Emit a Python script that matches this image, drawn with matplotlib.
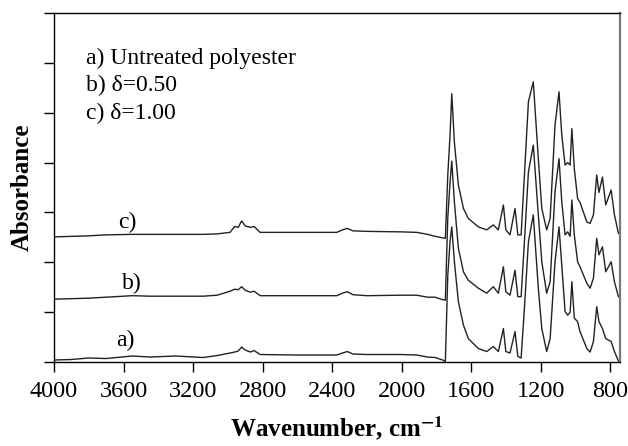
import matplotlib.pyplot as plt
import numpy as np

plt.rcParams['font.family'] = ['Liberation Serif', 'DejaVu Serif']
plt.rcParams['mathtext.fontset'] = 'stix'

# wavenumbers (cm-1) and absorbance, with the offsets as drawn
wavenumber = [4000, 3900, 3804, 3700, 3550, 3447, 3300, 3142, 3060, 2987,
              2960, 2940, 2920, 2900, 2870, 2849, 2814, 2600, 2373, 2340,
              2312, 2280, 2200, 2000, 1913, 1850, 1807, 1763, 1748, 1734,
              1721, 1711, 1696, 1673, 1644, 1616, 1558, 1510, 1472, 1443,
              1414, 1400, 1376, 1347, 1331, 1312, 1293, 1270, 1242, 1213,
              1193, 1165, 1145, 1117, 1094, 1078, 1059, 1044, 1030, 1020,
              1006, 987, 973, 934, 915, 896, 877, 864, 844, 825,
              794, 775, 752]

untreated = [0.04, 0.05, 0.08, 0.07, 0.12, 0.10, 0.12, 0.09, 0.13, 0.18,
             0.20, 0.22, 0.30, 0.24, 0.20, 0.23, 0.15, 0.14, 0.14, 0.18,
             0.21, 0.16, 0.15, 0.15, 0.14, 0.10, 0.09, 0.04, 0.01, 1.74,
             2.41, 2.71, 2.01, 1.21, 0.74, 0.47, 0.27, 0.21, 0.31, 0.21,
             0.67, 0.21, 0.18, 0.61, 0.11, 0.08, 1.08, 2.41, 2.95, 1.48,
             0.67, 0.21, 0.47, 2.01, 2.71, 1.94, 1.01, 0.94, 1.00, 1.61,
             0.88, 0.81, 0.61, 0.27, 0.20, 0.41, 1.11, 0.81, 0.67, 0.47,
             0.41, 0.21, 0.02]

delta_050 = [1.26, 1.27, 1.28, 1.30, 1.33, 1.32, 1.32, 1.32, 1.34, 1.42,
             1.46, 1.45, 1.51, 1.44, 1.40, 1.42, 1.33, 1.33, 1.33, 1.38,
             1.41, 1.35, 1.33, 1.34, 1.34, 1.30, 1.30, 1.25, 1.24, 2.90,
             3.60, 4.03, 3.21, 2.28, 1.81, 1.64, 1.48, 1.38, 1.51, 1.38,
             1.91, 1.41, 1.34, 1.84, 1.31, 1.31, 2.41, 3.81, 4.35, 2.95,
             2.01, 1.38, 1.61, 3.41, 4.08, 3.21, 2.55, 2.61, 2.52, 3.25,
             2.55, 2.01, 1.91, 1.58, 1.48, 1.68, 2.48, 2.15, 2.31, 1.81,
             2.01, 1.61, 1.31]

delta_100 = [2.51, 2.52, 2.53, 2.55, 2.56, 2.56, 2.56, 2.56, 2.57, 2.60,
             2.72, 2.70, 2.83, 2.73, 2.70, 2.72, 2.60, 2.60, 2.60, 2.65,
             2.68, 2.63, 2.62, 2.61, 2.60, 2.56, 2.52, 2.49, 2.48, 3.75,
             4.55, 5.38, 4.41, 3.55, 3.08, 2.88, 2.71, 2.65, 2.75, 2.65,
             3.15, 2.65, 2.55, 3.08, 2.55, 2.55, 3.75, 5.22, 5.62, 4.08,
             3.08, 2.65, 2.88, 4.75, 5.42, 4.55, 3.95, 4.00, 3.95, 4.68,
             3.88, 3.28, 3.20, 2.81, 2.78, 2.95, 3.75, 3.40, 3.71, 3.15,
             3.45, 2.95, 2.58]

x_ticks = [4000, 3600, 3200, 2800, 2400, 2000, 1600, 1200, 800]
legend_lines = ['a) Untreated polyester', 'b) δ=0.50', 'c) δ=1.00']

fig = plt.figure(figsize=(6.28, 4.46), dpi=100)
ax = fig.add_axes([54/628, 1 - 362/446, (620 - 54)/628, (362 - 13)/446])

for y in [untreated, delta_050, delta_100]:
    ax.plot(wavenumber, y, color='#222222', lw=1.0)

ax.set_xlim(4000, 743)
ax.set_ylim(0, 7)
ax.set_xticks(x_ticks)
ax.set_yticks(np.arange(0, 8))
ax.set_yticklabels([])
ax.tick_params(axis='both', direction='out', length=7, width=1, labelsize=17.5)
ax.tick_params(axis='x', pad=7)

for s in ['left', 'bottom', 'top']:
    ax.spines[s].set_linewidth(1.0)
ax.spines['right'].set_color('#777777')
ax.spines['right'].set_linewidth(1.6)

# curve labels
ax.text(3591, 0.44, 'a)', fontsize=17, ha='center', va='center')
ax.text(3551, 1.58, 'b)', fontsize=17, ha='center', va='center')
ax.text(3580, 2.80, 'c)', fontsize=17, ha='center', va='center')

for i, t in enumerate(legend_lines):
    ax.text(3816, 6.09 - 0.55 * i, t, fontsize=17, ha='left', va='center')

ax.set_ylabel('Absorbance', fontsize=18, fontweight='bold', labelpad=4)
ax.set_xlabel(r'Wavenumber, cm$^{\mathbf{-1}}$', fontsize=18, fontweight='bold', labelpad=9)

fig.savefig('out.png', dpi=100)
